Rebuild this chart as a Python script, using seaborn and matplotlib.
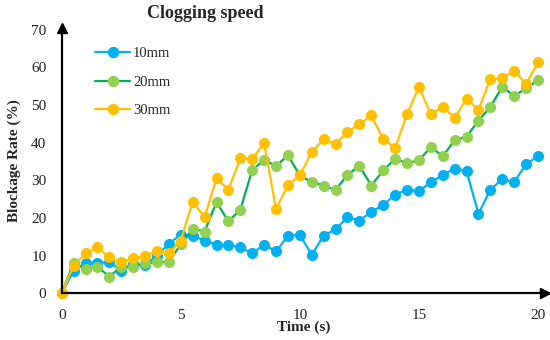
"""Clogging speed - blockage rate over time for three particle sizes"""
import matplotlib
matplotlib.use('Agg')
import matplotlib.pyplot as plt
from matplotlib.lines import Line2D
import numpy as np
import pandas as pd
import seaborn as sns

# time axis, one reading every 0.5 s
time_s = [i * 0.5 for i in range(41)]

rate_10mm = [0, 6.0, 8.0, 8.0, 8.3, 6.0, 7.8, 7.5, 10.0, 13.2, 15.5, 15.3, 14.0, 12.9, 12.9,
             12.2, 10.6, 12.9, 11.1, 15.3, 15.5, 10.2, 15.3, 17.0, 20.2, 19.3, 21.6, 23.4,
             26.2, 27.5, 27.1, 29.5, 31.4, 33.1, 32.4, 21.1, 27.5, 30.3, 29.5, 34.3, 36.4]
rate_20mm = [0, 8.0, 6.5, 7.1, 4.4, 7.1, 7.1, 8.0, 8.2, 8.4, 13.0, 17.1, 16.4, 24.2, 19.1,
             22.2, 32.7, 35.4, 33.8, 36.6, 31.3, 29.5, 28.6, 27.4, 31.5, 33.8, 28.6, 32.6,
             35.7, 34.5, 35.3, 38.8, 36.4, 40.6, 41.6, 45.8, 49.5, 54.8, 52.4, 54.4, 56.6]
rate_30mm = [0, 7.3, 10.6, 12.2, 9.5, 8.2, 9.3, 9.9, 11.3, 10.6, 14.0, 24.3, 20.2, 30.5, 27.5,
             35.8, 35.6, 39.8, 22.4, 28.7, 31.3, 37.5, 40.9, 39.7, 42.8, 44.9, 47.2, 40.9,
             38.6, 47.5, 54.8, 47.5, 49.5, 46.6, 51.6, 48.7, 56.9, 57.1, 59.1, 55.5, 61.3]

labels = ['10mm', '20mm', '30mm']
line_colors = ['#00B0F0', '#00B050', '#FFC000']
dot_colors = ['#00B0F0', '#92D050', '#FFC000']

df = pd.DataFrame({'time': time_s * 3,
                   'rate': rate_10mm + rate_20mm + rate_30mm,
                   'size': [l for l in labels for _ in time_s]})

sns.set_style('white')
plt.rcParams['font.family'] = ['Liberation Serif', 'DejaVu Serif']

fig = plt.figure(figsize=(5.5, 3.4), dpi=100)
ax = fig.add_axes([0.1122, 0.1374, 0.879, 0.78])

for lab, lc, dc in zip(labels, line_colors, dot_colors):
    sns.lineplot(data=df[df['size'] == lab], x='time', y='rate', ax=ax, color=lc,
                 marker='o', markersize=7.2, markerfacecolor=dc, markeredgecolor=dc,
                 linewidth=1.6, clip_on=False, legend=False)

ax.set_xlim(0, 20.3)
ax.set_ylim(0, 70.4)
ax.set_xticks([0, 5, 10, 15, 20])
ax.set_yticks(range(0, 71, 10))
ax.tick_params(length=0, labelsize=11, colors='#222222')
ax.tick_params(axis='x', pad=11)
ax.tick_params(axis='y', pad=11)
ax.set_xlabel('Time (s)', fontsize=11, fontweight='bold', labelpad=-1)
ax.set_ylabel('Blockage Rate (%)', fontsize=11, fontweight='bold', labelpad=7)

# axis lines with arrow heads
for side in ['top', 'right']:
    ax.spines[side].set_visible(False)
for side in ['left', 'bottom']:
    ax.spines[side].set_linewidth(1.6)
    ax.spines[side].set_color('black')
ax.plot(1, 0, '>k', markersize=7, transform=ax.transAxes, clip_on=False)
ax.plot(0, 1, '^k', markersize=7, transform=ax.transAxes, clip_on=False)

fig.text(0.373, 0.96, 'Clogging speed', fontsize=13, fontweight='bold', ha='center', va='center')

handles = [Line2D([], [], color=lc, marker='o', markersize=7.2, markerfacecolor=dc,
                  markeredgecolor=dc, linewidth=1.6) for lc, dc in zip(line_colors, dot_colors)]
ax.legend(handles, labels, loc='upper left', bbox_to_anchor=(0.16, 0.883),
          bbox_transform=fig.transFigure, frameon=False, fontsize=10.5,
          handlelength=2.4, handletextpad=0.2, labelspacing=1.05, borderpad=0)

fig.savefig('out.png', dpi=100)
